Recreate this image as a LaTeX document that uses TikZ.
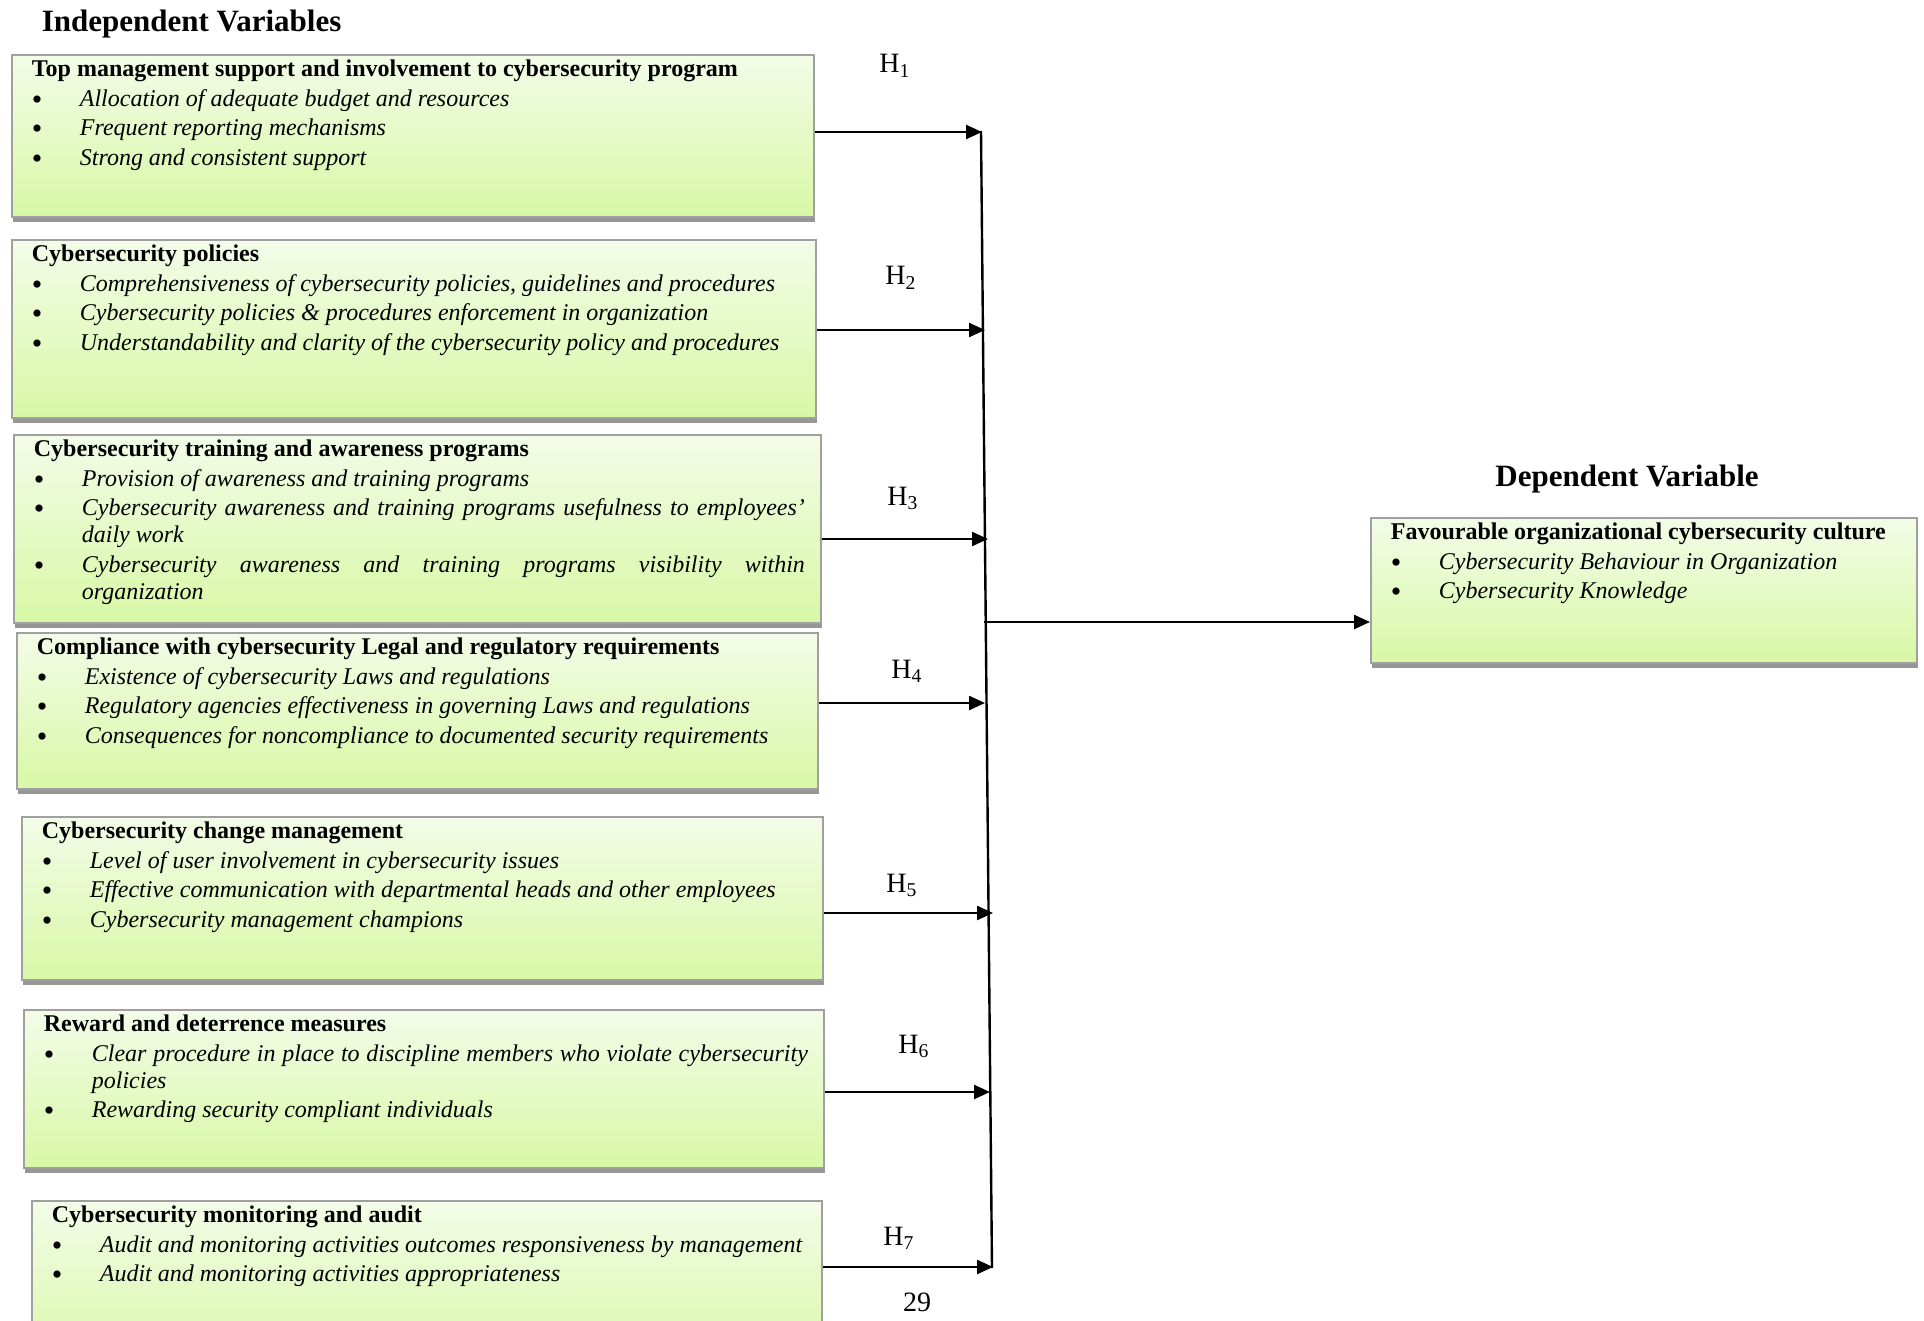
\documentclass[tikz,border=0pt]{standalone}
\usepackage{fontspec}
\setmainfont{Liberation Serif}
\usepackage{tikz}
\usetikzlibrary{arrows.meta}
\usetikzlibrary{shadows}

\definecolor{boxtop}{RGB}{243,252,232}
\definecolor{boxbot}{RGB}{216,248,166}
\definecolor{boxline}{RGB}{160,160,160}
\definecolor{boxshade}{RGB}{150,150,150}

% box contents: width, height, text
\newcommand\varbox[3]{\hspace*{10pt}\parbox[c][#2][t]{\dimexpr #1-18pt\relax}{\fontsize{12pt}{13.5pt}\selectfont\parskip=1.2pt\parindent=0pt #3}\hspace*{8pt}}
\newcommand\boxhead[1]{\rule{0pt}{11pt}\textbf{#1}\par}
\newcommand\boxitem[1]{\hangindent=24pt\hangafter=1\noindent\makebox[24pt][l]{\raisebox{-1.5pt}{\fontsize{15pt}{15pt}\selectfont\textbullet}}\textit{#1}\par}

\begin{document}
\begin{tikzpicture}[x=0.5pt,y=0.5pt,yscale=-1,
    ivbox/.style={draw=boxline, line width=0.9pt, inner sep=0pt, top color=boxtop, bottom color=boxbot,
      general shadow={fill=boxshade, shadow yshift=-2.5pt, shadow xshift=0.4pt}},
    hyp/.style={line width=1.2pt, -{Triangle[length=8pt,width=7pt]}},
    hlabel/.style={anchor=base, inner sep=0.75pt, font=\fontsize{14pt}{16pt}\selectfont},
    heading/.style={inner sep=0.75pt, font=\bfseries\fontsize{15.5pt}{18pt}\selectfont}]
                        \useasboundingbox (0,0) rectangle (1924,1321);
                        \clip (0,0) rectangle (1924,1321);

                        % Text Node
                        \draw (40,32) node [anchor=base west][heading] (indep) {Independent Variables};
                        % Text Node
                        \draw (1627,487) node [anchor=base][heading] (dep) {Dependent Variable};

                        %Shape: Box
                        \draw (11,54) node [anchor=north west][ivbox] (iv1) {\varbox{401pt}{81pt}{%
                          \boxhead{Top management support and involvement to cybersecurity program}
                          \boxitem{Allocation of adequate budget and resources}
                          \boxitem{Frequent reporting mechanisms}
                          \boxitem{Strong and consistent support}}};
                        %Shape: Box
                        \draw (11,239) node [anchor=north west][ivbox] (iv2) {\varbox{402pt}{89pt}{%
                          \boxhead{Cybersecurity policies}
                          \boxitem{Comprehensiveness of cybersecurity policies, guidelines and procedures}
                          \boxitem{Cybersecurity policies \& procedures enforcement in organization}
                          \boxitem{Understandability and clarity of the cybersecurity policy and procedures}}};
                        %Shape: Box
                        \draw (13,434) node [anchor=north west][ivbox] (iv3) {\varbox{403.5pt}{94pt}{%
                          \boxhead{Cybersecurity training and awareness programs}
                          \boxitem{Provision of awareness and training programs}
                          \boxitem{Cybersecurity awareness and training programs usefulness to employees’\linebreak daily work}
                          \boxitem{Cybersecurity awareness and training programs visibility within\linebreak organization}}};
                        %Shape: Box
                        \draw (16,632) node [anchor=north west][ivbox] (iv4) {\varbox{400.5pt}{78pt}{%
                          \boxhead{Compliance with cybersecurity Legal and regulatory requirements}
                          \boxitem{Existence of cybersecurity Laws and regulations}
                          \boxitem{Regulatory agencies effectiveness in governing Laws and regulations}
                          \boxitem{Consequences for noncompliance to documented security requirements}}};
                        %Shape: Box
                        \draw (21,816) node [anchor=north west][ivbox] (iv5) {\varbox{400.5pt}{81.5pt}{%
                          \boxhead{Cybersecurity change management}
                          \boxitem{Level of user involvement in cybersecurity issues}
                          \boxitem{Effective communication with departmental heads and other employees}
                          \boxitem{Cybersecurity management champions}}};
                        %Shape: Box
                        \draw (23,1009) node [anchor=north west][ivbox] (iv6) {\varbox{400pt}{79pt}{%
                          \boxhead{Reward and deterrence measures}
                          \boxitem{Clear procedure in place to discipline members who violate cybersecurity\linebreak policies}
                          \boxitem{Rewarding security compliant individuals}}};
                        %Shape: Box
                        \draw (31,1200) node [anchor=north west][ivbox] (iv7) {\varbox{395pt}{85pt}{%
                          \boxhead{Cybersecurity monitoring and audit}
                          \boxitem{Audit and monitoring activities outcomes responsiveness by management}
                          \boxitem{Audit and monitoring activities appropriateness}}};
                        %Shape: Box
                        \draw (1370,517) node [anchor=north west][ivbox] (dv) {\varbox{273pt}{72.5pt}{%
                          \boxhead{Favourable organizational cybersecurity culture}
                          \boxitem{Cybersecurity Behaviour in Organization}
                          \boxitem{Cybersecurity Knowledge}}};

                        % joints on the vertical line
                        \coordinate (bt) at (981,131);
                        \coordinate (bb) at (992,1268);
                        \coordinate (bm) at (984,622);
                        \coordinate (h1) at (982,132);
                        \coordinate (h2) at (985,330);
                        \coordinate (h3) at (988,539);
                        \coordinate (h4) at (985,703);
                        \coordinate (h5) at (993,913);
                        \coordinate (h6) at (990,1092);
                        \coordinate (h7) at (993,1267);

                        %Straight Lines
                        \draw [line width=1.2pt] (bt) -- (bb);
                        \draw [hyp] (iv1.east |- h1) -- (h1);
                        \draw [hyp] (iv2.east |- h2) -- (h2);
                        \draw [hyp] (iv3.east |- h3) -- (h3);
                        \draw [hyp] (iv4.east |- h4) -- (h4);
                        \draw [hyp] (iv5.east |- h5) -- (h5);
                        \draw [hyp] (iv6.east |- h6) -- (h6);
                        \draw [hyp] (iv7.east |- h7) -- (h7);
                        \draw [hyp] (bm) -- (bm -| dv.west);

                        % Text Node
                        \draw (895,73) node [hlabel] (l1) {H\textsubscript{1}};
                        % Text Node
                        \draw (901,285) node [hlabel] (l2) {H\textsubscript{2}};
                        % Text Node
                        \draw (903,505) node [hlabel] (l3) {H\textsubscript{3}};
                        % Text Node
                        \draw (907,678) node [hlabel] (l4) {H\textsubscript{4}};
                        % Text Node
                        \draw (902,892) node [hlabel] (l5) {H\textsubscript{5}};
                        % Text Node
                        \draw (914,1053) node [hlabel] (l6) {H\textsubscript{6}};
                        % Text Node
                        \draw (899,1245) node [hlabel] (l7) {H\textsubscript{7}};
                        % Text Node
                        \draw (917,1311) node [hlabel] (pg) {29};
\end{tikzpicture}
\end{document}
